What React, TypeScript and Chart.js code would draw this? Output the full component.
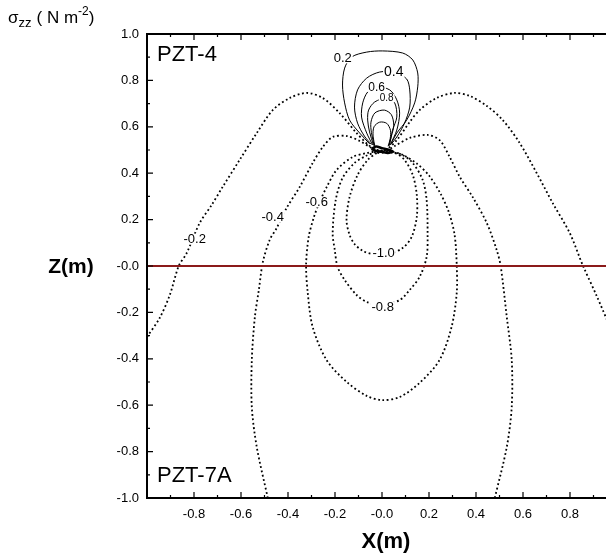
import { useEffect, useRef } from "react";
import { Chart, registerables } from "chart.js";

Chart.register(...registerables);

const FONT = "'Liberation Sans', Arial, Helvetica, sans-serif";

// axis ranges / ticks
const X_RANGE = [-1, 1];
const Z_RANGE = [-1, 1];
const TICK_STEP = 0.1;

// contour lines, [X (m), Z (m)] pairs
const cM02: [number, number][] = [
  [-1.0, -0.306], [-0.946, -0.224], [-0.903, -0.125], [-0.865, 0], [-0.831, 0.056], [-0.776, 0.185],
  [-0.725, 0.263], [-0.678, 0.341], [-0.606, 0.457], [-0.533, 0.573], [-0.465, 0.672], [-0.393, 0.724],
  [-0.32, 0.746], [-0.252, 0.724], [-0.18, 0.659], [-0.108, 0.573], [-0.052, 0.517], [-0.018, 0.5],
  [0.016, 0.5], [0.063, 0.543], [0.118, 0.621], [0.16, 0.672], [0.232, 0.724], [0.309, 0.746],
  [0.373, 0.733], [0.446, 0.69], [0.514, 0.629], [0.586, 0.53], [0.658, 0.401], [0.726, 0.272],
  [0.799, 0.142], [0.854, 0.004], [0.914, -0.13], [0.969, -0.26],
];
const cM04: [number, number][] = [
  [-0.486, -1.0], [-0.533, -0.78], [-0.554, -0.608], [-0.554, -0.405], [-0.541, -0.22], [-0.524, -0.103],
  [-0.507, 0.017], [-0.478, 0.112], [-0.448, 0.164], [-0.406, 0.25], [-0.35, 0.341], [-0.295, 0.444],
  [-0.252, 0.513], [-0.21, 0.556], [-0.15, 0.56], [-0.095, 0.539], [-0.044, 0.509], [-0.01, 0.496],
  [0.016, 0.496], [0.054, 0.517], [0.118, 0.552], [0.194, 0.565], [0.245, 0.543], [0.288, 0.47],
  [0.331, 0.384], [0.386, 0.297], [0.446, 0.185], [0.488, 0.069], [0.505, 0], [0.531, -0.22],
  [0.552, -0.405], [0.552, -0.608], [0.531, -0.78], [0.48, -1.0],
];
const cM06: [number, number][] = [
  [-0.018, 0.495], [-0.065, 0.487], [-0.125, 0.47], [-0.193, 0.414], [-0.235, 0.341], [-0.268, 0.27],
  [-0.29, 0.21], [-0.312, 0.125], [-0.323, 0.004], [-0.316, -0.116], [-0.295, -0.263], [-0.236, -0.405],
  [-0.15, -0.5], [-0.065, -0.56], [0, -0.578], [0.075, -0.565], [0.16, -0.504], [0.245, -0.405],
  [0.296, -0.263], [0.318, -0.116], [0.318, 0.004], [0.309, 0.134], [0.285, 0.23], [0.25, 0.31],
  [0.2, 0.39], [0.15, 0.44], [0.09, 0.478], [0.033, 0.495], [-0.018, 0.495],
];
const cM08: [number, number][] = [
  [-0.027, 0.491], [-0.069, 0.474], [-0.117, 0.444], [-0.168, 0.379], [-0.197, 0.284], [-0.21, 0.142],
  [-0.201, 0.069], [-0.189, -0.004], [-0.159, -0.06], [-0.108, -0.125], [-0.065, -0.155], [0, -0.168],
  [0.075, -0.147], [0.118, -0.103], [0.16, -0.047], [0.19, 0.039], [0.194, 0.142], [0.19, 0.284],
  [0.173, 0.371], [0.131, 0.444], [0.088, 0.478], [0.041, 0.491], [-0.027, 0.491],
];
const cM10: [number, number][] = [
  [-0.023, 0.487], [-0.061, 0.457], [-0.104, 0.392], [-0.138, 0.297], [-0.151, 0.198], [-0.138, 0.134],
  [-0.117, 0.095], [-0.082, 0.065], [-0.044, 0.052], [0.011, 0.043], [0.088, 0.078], [0.126, 0.125],
  [0.148, 0.211], [0.148, 0.306], [0.131, 0.392], [0.096, 0.457], [0.054, 0.487], [-0.023, 0.487],
];
const cP02: [number, number][] = [
  [-0.052, 0.526], [-0.095, 0.573], [-0.138, 0.629], [-0.159, 0.703], [-0.168, 0.78], [-0.159, 0.853],
  [-0.129, 0.901], [-0.065, 0.922], [0.003, 0.927], [0.088, 0.918], [0.131, 0.888], [0.152, 0.832],
  [0.152, 0.772], [0.139, 0.703], [0.105, 0.629], [0.063, 0.573], [0.04, 0.53],
];
const cP04: [number, number][] = [
  [-0.045, 0.524], [-0.075, 0.56], [-0.104, 0.616], [-0.117, 0.685], [-0.104, 0.759], [-0.065, 0.81],
  [-0.01, 0.836], [0.054, 0.836], [0.105, 0.806], [0.118, 0.759], [0.118, 0.685], [0.096, 0.616],
  [0.063, 0.556], [0.038, 0.524],
];
const cP06: [number, number][] = [
  [-0.04, 0.522], [-0.065, 0.573], [-0.087, 0.642], [-0.082, 0.703], [-0.061, 0.75], [-0.023, 0.772],
  [0.033, 0.759], [0.063, 0.716], [0.075, 0.659], [0.063, 0.586], [0.035, 0.522],
];
const cP08: [number, number][] = [
  [-0.036, 0.52], [-0.053, 0.578], [-0.061, 0.629], [-0.057, 0.672], [-0.031, 0.707], [0.02, 0.724],
  [0.054, 0.703], [0.063, 0.642], [0.045, 0.586], [0.032, 0.52],
];
const cP10: [number, number][] = [
  [-0.033, 0.518], [-0.045, 0.575], [-0.047, 0.62], [-0.03, 0.66], [0.01, 0.672], [0.04, 0.652],
  [0.05, 0.605], [0.04, 0.56], [0.029, 0.518],
];
const cP15: [number, number][] = [
  [-0.03, 0.516], [-0.038, 0.56], [-0.034, 0.6], [-0.01, 0.62], [0.02, 0.615], [0.036, 0.585],
  [0.035, 0.55], [0.026, 0.516],
];
const sourceRing: [number, number][] = [
  [-0.045, 0.505], [-0.025, 0.515], [0, 0.508], [0.025, 0.502], [0.045, 0.495], [0.025, 0.487],
  [0, 0.492], [-0.025, 0.495], [-0.045, 0.505],
];
const interfaceLine: [number, number][] = [[-1, 0], [1, 0]];

// contour labels: text, X, Z, font size
const labelTexts = ["-0.2", "-0.4", "-0.6", "-1.0", "-0.8", "0.2", "0.4", "0.6", "0.8"];
const labelX = [-0.797, -0.465, -0.278, 0.007, 0.003, -0.167, 0.05, -0.023, 0.02];
const labelZ = [0.116, 0.211, 0.276, 0.056, -0.177, 0.897, 0.836, 0.772, 0.724];
const labelSize = [13, 13, 13, 13, 13, 13, 14, 12, 10];

const toXY = (pts: [number, number][]) => pts.map(([x, z]) => ({ x, y: z }));

const fmtTick = (v: number) => {
  const k = Math.round(v * 10);
  if (k % 2 !== 0) return "";
  if (k === 0) return "-0.0";
  return (k / 10).toFixed(1);
};

export default function App() {
  const ref = useRef<HTMLCanvasElement | null>(null);

  useEffect(() => {
    if (!ref.current) return;

    const dotted = (pts: [number, number][]) => ({
      data: toXY(pts),
      showLine: true,
      borderColor: "#000",
      borderWidth: 1.8,
      borderDash: [1.8, 2.6],
      borderCapStyle: "butt" as const,
      pointRadius: 0,
      tension: 0.3,
      fill: false,
    });
    const solid = (pts: [number, number][], w = 1) => ({
      data: toXY(pts),
      showLine: true,
      borderColor: "#000",
      borderWidth: w,
      pointRadius: 0,
      tension: 0.3,
      fill: false,
    });

    const overlay = {
      id: "overlay",
      afterDatasetsDraw(chart: any) {
        const ctx = chart.ctx as CanvasRenderingContext2D;
        const xs = chart.scales.x;
        const ys = chart.scales.y;
        ctx.save();
        ctx.textAlign = "center";
        ctx.textBaseline = "middle";
        for (let i = 0; i < labelTexts.length; i++) {
          const px = xs.getPixelForValue(labelX[i]);
          const py = ys.getPixelForValue(labelZ[i]);
          const s = labelSize[i];
          ctx.font = `${s}px ${FONT}`;
          const w = ctx.measureText(labelTexts[i]).width;
          ctx.fillStyle = "#fff";
          ctx.fillRect(px - w / 2 - 1, py - s * 0.42, w + 2, s * 0.84);
          ctx.fillStyle = "#000";
          ctx.fillText(labelTexts[i], px, py + 0.5);
        }
        ctx.restore();
      },
      afterDraw(chart: any) {
        const ctx = chart.ctx as CanvasRenderingContext2D;
        const { left, right, top, bottom } = chart.chartArea;
        const xs = chart.scales.x;
        const ys = chart.scales.y;
        ctx.save();
        // frame
        ctx.strokeStyle = "#000";
        ctx.lineWidth = 2;
        ctx.strokeRect(left, top, right - left, bottom - top);
        // inward ticks
        ctx.lineWidth = 1.2;
        ctx.beginPath();
        for (const t of xs.ticks) {
          const p = xs.getPixelForValue(t.value);
          const len = Math.round(t.value * 10) % 2 === 0 ? 6 : 3;
          ctx.moveTo(p, bottom);
          ctx.lineTo(p, bottom - len);
          ctx.moveTo(p, top);
          ctx.lineTo(p, top + len);
        }
        for (const t of ys.ticks) {
          const p = ys.getPixelForValue(t.value);
          const len = Math.round(t.value * 10) % 2 === 0 ? 6 : 3;
          ctx.moveTo(left, p);
          ctx.lineTo(left + len, p);
          ctx.moveTo(right, p);
          ctx.lineTo(right - len, p);
        }
        ctx.stroke();

        // texts
        ctx.fillStyle = "#000";
        ctx.textBaseline = "middle";
        ctx.textAlign = "center";
        ctx.font = `bold 21px ${FONT}`;
        ctx.fillText("Z(m)", 71, 267);
        ctx.font = `bold 22px ${FONT}`;
        ctx.fillText("X(m)", 386, 542);

        ctx.textAlign = "left";
        ctx.font = `22px ${FONT}`;
        ctx.fillText("PZT-4", 157, 55);
        ctx.fillText("PZT-7A", 157, 476);

        // sigma_zz ( N m^-2 )
        ctx.textBaseline = "alphabetic";
        let x = 8;
        ctx.font = `17px ${FONT}`;
        ctx.fillText("σ", x, 23);
        x += ctx.measureText("σ").width;
        ctx.font = `13px ${FONT}`;
        ctx.fillText("zz", x, 27);
        x += ctx.measureText("zz").width + 5;
        ctx.font = `17px ${FONT}`;
        ctx.fillText("( N m", x, 23);
        x += ctx.measureText("( N m").width;
        ctx.font = `12px ${FONT}`;
        ctx.fillText("-2", x, 15);
        x += ctx.measureText("-2").width;
        ctx.font = `17px ${FONT}`;
        ctx.fillText(")", x, 23);
        ctx.restore();
      },
    };

    const chart = new Chart(ref.current, {
      type: "scatter",
      data: {
        datasets: [
          {
            data: toXY(interfaceLine),
            showLine: true,
            borderColor: "#8B1A1A",
            borderWidth: 2,
            pointRadius: 0,
            fill: false,
          } as any,
          solid(sourceRing, 2.5),
          dotted(cM02),
          dotted(cM04),
          dotted(cM06),
          dotted(cM08),
          dotted(cM10),
          solid(cP02),
          solid(cP04),
          solid(cP06),
          solid(cP08),
          solid(cP10),
          solid(cP15),
        ],
      },
      options: {
        responsive: false,
        devicePixelRatio: 1,
        animation: false,
        events: [],
        layout: { padding: { left: 0, right: 9, top: 34, bottom: 0 } },
        plugins: { legend: { display: false }, tooltip: { enabled: false } },
        scales: {
          x: {
            type: "linear",
            position: "bottom",
            min: X_RANGE[0],
            max: X_RANGE[1],
            afterFit: (s: any) => {
              s.height = 61;
            },
            grid: { display: false, drawTicks: false },
            border: { display: false },
            ticks: {
              stepSize: TICK_STEP,
              autoSkip: false,
              maxRotation: 0,
              minRotation: 0,
              padding: 9,
              color: "#000",
              font: { family: FONT, size: 13 },
              callback: (v: any) => {
                const k = Math.round(Number(v) * 10);
                if (k === -10 || k === 10) return "";
                return fmtTick(Number(v));
              },
            },
          },
          y: {
            type: "linear",
            position: "left",
            min: Z_RANGE[0],
            max: Z_RANGE[1],
            afterFit: (s: any) => {
              s.width = 147;
            },
            grid: { display: false, drawTicks: false },
            border: { display: false },
            ticks: {
              stepSize: TICK_STEP,
              autoSkip: false,
              padding: 8,
              color: "#000",
              font: { family: FONT, size: 13 },
              callback: (v: any) => fmtTick(Number(v)),
            },
          },
        },
      },
      plugins: [overlay],
    });

    return () => chart.destroy();
  }, []);

  return (
    <div
      style={{
        position: "fixed",
        left: 0,
        top: 0,
        width: 606,
        height: 559,
        overflow: "hidden",
        background: "#fff",
      }}
    >
      <canvas ref={ref} width={626} height={559} style={{ display: "block", width: 626, height: 559 }} />
    </div>
  );
}
